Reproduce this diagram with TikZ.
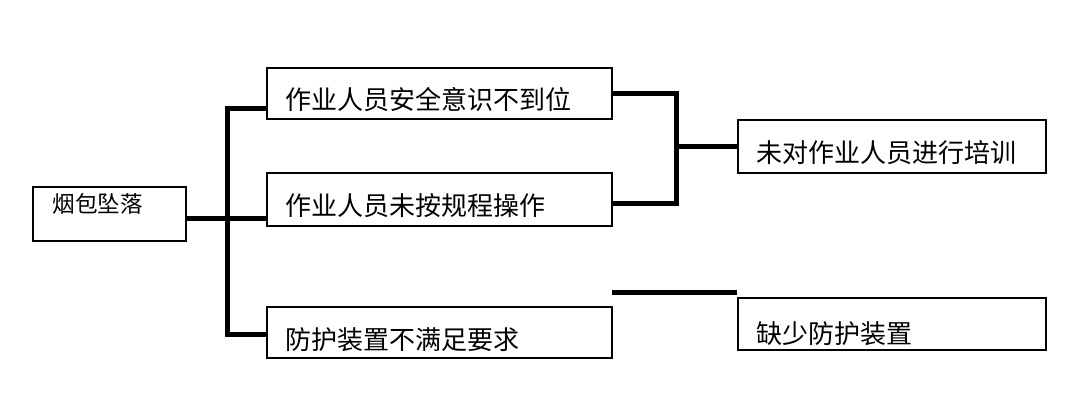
\documentclass[tikz,border=0pt]{standalone}
\usepackage{fontspec}
\newfontfamily\cjk{Noto Sans CJK SC}
\usetikzlibrary{positioning}
\tikzset{
	box/.style={draw, line width=0.8pt, inner sep=0pt, minimum height=26pt},
	txt/.style={anchor=west, inner sep=0pt, font=\cjk\fontsize{13}{13}\selectfont},
	link/.style={line width=2.5pt, line join=miter}
}
\begin{document}
\begin{tikzpicture}[x=0.5pt, y=-0.5pt, line cap=butt]
		\useasboundingbox (0,0) rectangle (1080,411);
		%các ô
		\node[box, minimum width=76.5pt, minimum height=27pt] (top) at (109.5,214) {};
		\node[box, minimum width=172.5pt, minimum height=25.5pt] (b1) at (439.5,93.5) {};
		\node[box, minimum width=172.5pt, minimum height=26.5pt] (b2) at (439.5,199.5) {};
		\node[box, minimum width=172.5pt, minimum height=25.5pt] (b3) at (439.5,332.5) {};
		\node[box, minimum width=154pt, minimum height=26.5pt] (b4) at (892,146.5) {};
		\node[box, minimum width=154pt, minimum height=26pt] (b5) at (892,324) {};
		%chữ
		\node[txt, font=\cjk\fontsize{11.3}{11.3}\selectfont] (t0) at (52,204) {烟包坠落};
		\node[txt] (t1) at (285,100) {作业人员安全意识不到位};
		\node[txt] (t2) at (285,206) {作业人员未按规程操作};
		\node[txt] (t3) at (285,340) {防护装置不满足要求};
		\node[txt] (t4) at (756,153) {未对作业人员进行培训};
		\node[txt] (t5) at (756,334) {缺少防护装置};
		%đường nối
		\coordinate (s) at (227,219);
		\coordinate (sa) at (227,109);
		\coordinate (sc) at (227,334);
		\coordinate (r) at (676,148);
		\coordinate (r2) at (676,204);
		\coordinate (f) at (612,292);
		\draw[link] (top.east |- s) -- (b2.west |- s);
		\draw[link] (b1.west |- sa) -- (sa) -- (sc) -- (b3.west |- sc);
		\draw[link] (b1.east) -| (r2) -- (b2.east |- r2);
		\draw[link] (b4.west -| r) -- (b4.west);
		\draw[link] (f) -- (b5.west |- f);
\end{tikzpicture}
\end{document}
